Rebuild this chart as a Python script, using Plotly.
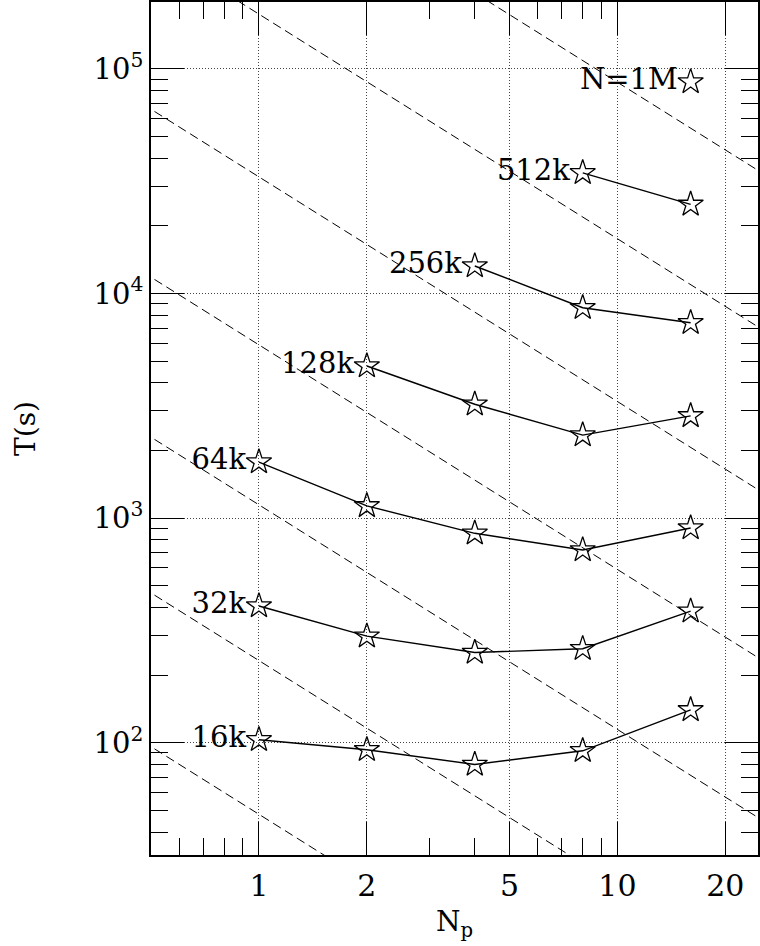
import numpy as np
import plotly.graph_objects as go

# ---- data ----
np_procs = [1, 2, 4, 8, 16]
t_16k = [103, 93, 80, 92, 140]
t_32k = [406, 298, 252, 262, 385]
t_64k = [1775, 1133, 855, 721, 903]
np_128k = [2, 4, 8, 16]
t_128k = [4750, 3210, 2340, 2850]
np_256k = [4, 8, 16]
t_256k = [13240, 8630, 7400]
np_512k = [8, 16]
t_512k = [34400, 24900]
np_1m = [16]
t_1m = [87300]

series = [
    ("16k", np_procs, t_16k),
    ("32k", np_procs, t_32k),
    ("64k", np_procs, t_64k),
    ("128k", np_128k, t_128k),
    ("256k", np_256k, t_256k),
    ("512k", np_512k, t_512k),
    ("N=1M", np_1m, t_1m),
]

# ideal-scaling reference lines (T at Np = 1), T ~ 1/Np
ideal_t1 = [48, 232, 1145, 5900, 33000, 175000, 870000]
ideal_np = [0.3, 40]

x_major = [1, 2, 5, 10, 20]
x_major_text = ["1", "2", "5", "10", "20"]
x_minor = [0.6, 0.7, 0.8, 0.9, 3, 4, 6, 7, 8, 9]
y_major = [1e2, 1e3, 1e4, 1e5]
y_major_text = ["10<sup>2</sup>", "10<sup>3</sup>", "10<sup>4</sup>", "10<sup>5</sup>"]
y_minor = [m * 10 ** e for e in (1, 2, 3, 4) for m in range(2, 10) if m * 10 ** e >= 32]

FONT = "DejaVu Serif"

fig = go.Figure()

for t1 in ideal_t1:
    fig.add_trace(go.Scatter(
        x=ideal_np, y=[t1 / v for v in ideal_np], mode="lines",
        line=dict(color="black", width=1, dash="9px,5px"),
        hoverinfo="skip", showlegend=False))

for name, xs, ys in series:
    fig.add_trace(go.Scatter(
        x=xs, y=ys, mode="lines+markers", name=name,
        line=dict(color="black", width=1.4),
        marker=dict(symbol="star-open", size=19, color="black",
                    line=dict(color="black", width=1.3)),
        showlegend=False, cliponaxis=False))

# labels at the first point of each series
fig.add_trace(go.Scatter(
    x=[s[1][0] for s in series], y=[s[2][0] for s in series],
    text=[s[0] for s in series], mode="markers+text",
    marker=dict(symbol="star-open", size=19, color="rgba(0,0,0,0)",
                line=dict(width=0)),
    textposition="middle left",
    textfont=dict(family=FONT, size=29, color="black"),
    hoverinfo="skip", showlegend=False, cliponaxis=False))

fig.update_layout(
    width=760, height=946,
    margin=dict(l=151, r=0, t=2, b=91),
    plot_bgcolor="white", paper_bgcolor="white",
    font=dict(family=FONT, size=28, color="black"),
)

fig.update_xaxes(
    type="log", range=[np.log10(0.5), 1.392],
    tickmode="array", tickvals=x_major, ticktext=x_major_text,
    ticks="inside", ticklen=33, tickwidth=1.3, tickcolor="black",
    showline=True, linewidth=1.6, linecolor="black", mirror="ticks",
    showgrid=True, gridcolor="#444", griddash="1px,2px", gridwidth=1,
    zeroline=False,
    minor=dict(tickmode="array", tickvals=x_minor, ticks="inside",
               ticklen=17, tickwidth=1.3, tickcolor="black", showgrid=False),
    tickfont=dict(family=FONT, size=30), ticklabelstandoff=3,
    title=dict(text="N<sub>p</sub>", font=dict(family=FONT, size=28), standoff=10),
)

fig.update_yaxes(
    type="log", range=[1.5, 5.297],
    tickmode="array", tickvals=y_major, ticktext=y_major_text,
    ticks="inside", ticklen=33, tickwidth=1.3, tickcolor="black",
    showline=True, linewidth=1.6, linecolor="black", mirror="ticks",
    showgrid=True, gridcolor="#444", griddash="1px,2px", gridwidth=1,
    zeroline=False,
    minor=dict(tickmode="array", tickvals=y_minor, ticks="inside",
               ticklen=17, tickwidth=1.3, tickcolor="black", showgrid=False),
    tickfont=dict(family=FONT, size=29),
    title=dict(text="T(s)", font=dict(family=FONT, size=28), standoff=50),
)

fig.write_html("out.html")
